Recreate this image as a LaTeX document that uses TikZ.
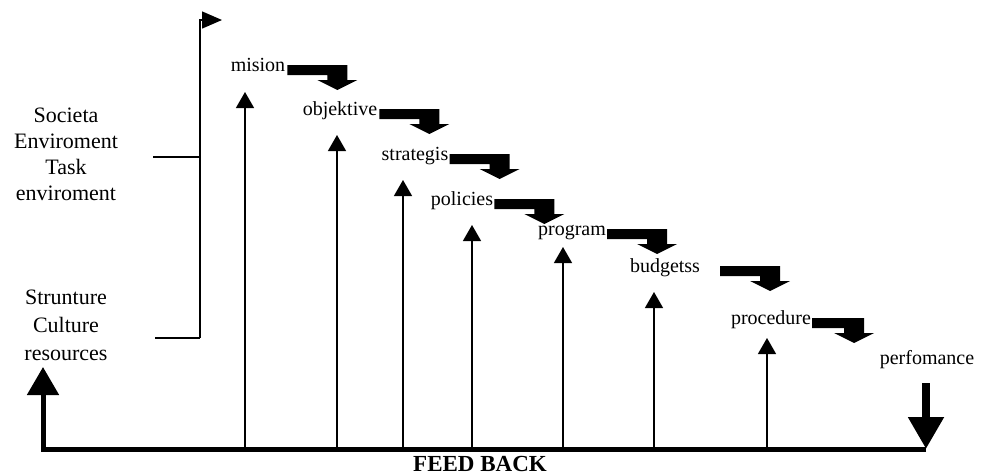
\documentclass[tikz,border=0pt]{standalone}
\usepackage{fontspec}
\setmainfont{Liberation Serif}
\usetikzlibrary{arrows.meta,calc}
\newcommand{\bentarr}[3]{%
  \fill ($(#1.mid east)+(#2,-4)$) -- ++(#3,0) -- ++(0,15) -- ++(10,0) -- ++(-20,10) -- ++(-20,-10) -- ++(10,0) -- ++(0,-5) -- ++(-#3+20,0) -- cycle;}
\begin{document}
\begin{tikzpicture}[x=1pt,y=-1pt,
  lbl/.style={font=\fontsize{20}{24}\selectfont, inner sep=0pt, anchor=mid},
  side/.style={font=\fontsize{22}{26}\selectfont, align=center, inner sep=0pt},
  thinline/.style={line width=1.4pt},
  uparr/.style={line width=1.4pt, -{Triangle[width=18pt,length=16pt]}},
  fbline/.style={line width=5pt, line join=miter},
]
\useasboundingbox (0,0) rectangle (983,475);

% side texts
\node[side] (env) at (66,154) {Societa\\Enviroment\\Task\\enviroment};
\node[side, font=\fontsize{22}{28}\selectfont] (int) at (66,325) {Strunture\\Culture\\resources};

% bracket
\coordinate (b1) at (153,157);
\coordinate (b2) at (155,338);
\coordinate (bc1) at (200,157);
\coordinate (bc2) at (200,338);
\coordinate (btop) at (200,20);
\coordinate (bend) at (222,20);
\draw[thinline] (b1) -- (bc1);
\draw[thinline] (b2) -- (bc2);
\draw[thinline, -{Triangle[width=17pt,length=20pt]}] (bc2) -- (btop) -- (bend);

% step labels
\node[lbl] (mision) at (258,69) {mision};
\node[lbl] (objektive) at (340,113) {objektive};
\node[lbl] (strategis) at (415,158) {strategis};
\node[lbl] (policies) at (462,203) {policies};
\node[lbl] (program) at (572,233) {program};
\node[lbl] (budgetss) at (665,270) {budgetss};
\node[lbl] (procedure) at (771,322) {procedure};
\node[lbl] (perfomance) at (927,362) {perfomance};

% bent arrows
\bentarr{mision}{2}{60}
\bentarr{objektive}{2}{60}
\bentarr{strategis}{1}{60}
\bentarr{policies}{1}{60}
\bentarr{program}{1}{60}
\bentarr{budgetss}{20}{60}
\bentarr{procedure}{1}{52}

% feedback line
\coordinate (fr) at (926,449);
\coordinate (fl) at (43,449);
\coordinate (ftip) at (43,367);
\coordinate (ptop) at (926,383);
\draw[line width=8pt, -{Triangle[width=34pt,length=32pt]}] (ptop) -- (fr);
\draw[fbline, -{Triangle[width=31pt,length=28pt]}] (fr) -- (fl) -- (ftip);

% vertical arrows from feedback line
\foreach \x/\t [count=\i] in {245/92, 337/135, 403/180, 472/225, 563/247, 654/292, 767/338}{
  \coordinate (u\i) at (\x,447);
  \coordinate (t\i) at (\x,\t);
  \draw[uparr] (u\i) -- (t\i);
}

\node[font=\bfseries\fontsize{23}{26}\selectfont, inner sep=0pt] (fb) at (480,464) {FEED BACK};
\end{tikzpicture}
\end{document}
